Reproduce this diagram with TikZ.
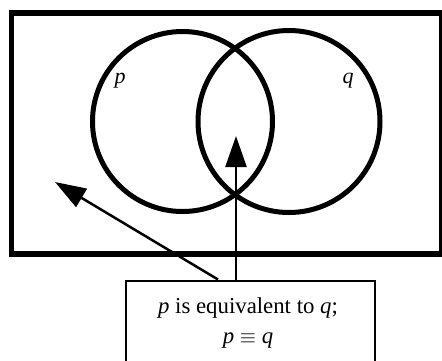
\documentclass[tikz,border=0pt]{standalone}
\usepackage{fontspec}
\setmainfont{Liberation Serif}
\usetikzlibrary{arrows.meta}
\begin{document}
\begin{tikzpicture}[x=1pt,y=-1pt,
  venn/.style={line width=5pt},
  frame/.style={line width=5.5pt},
  pointer/.style={line width=2.5pt,-{Triangle[length=31pt,width=21pt]}},
  labelbox/.style={draw,line width=2.5pt,minimum width=249pt,minimum height=92pt,anchor=north,inner sep=0pt},
  setlabel/.style={font=\fontsize{22}{26}\selectfont\itshape}]
\useasboundingbox (0,0) rectangle (442,360);
\fill[white] (0,0) rectangle (442,360);
\draw[frame] (11.5,13) rectangle (442,254);
\node[venn,draw,circle,minimum size=180pt,inner sep=0pt] (P) at (182.5,121.5) {};
\node[venn,draw,circle,minimum size=182pt,inner sep=0pt] (Q) at (289,121.5) {};
\node[setlabel] (lp) at (120,81) {p};
\node[setlabel] (lq) at (348,81) {q};
\node[labelbox] (B) at (250.5,279.5) {};
\node[font=\fontsize{22.8}{30}\selectfont,align=center] (T) at (248,323.5) {\textit{p} is equivalent to \textit{q};\\ \textit{p} $\equiv$ \textit{q}};
\coordinate (t1) at (236,136);
\coordinate (t2) at (55,182);
\coordinate (s1) at (236,279.5);
\coordinate (s2) at (218,279.5);
\draw[pointer] (s1) -- (t1);
\draw[pointer] (s2) -- (t2);
\end{tikzpicture}
\end{document}
